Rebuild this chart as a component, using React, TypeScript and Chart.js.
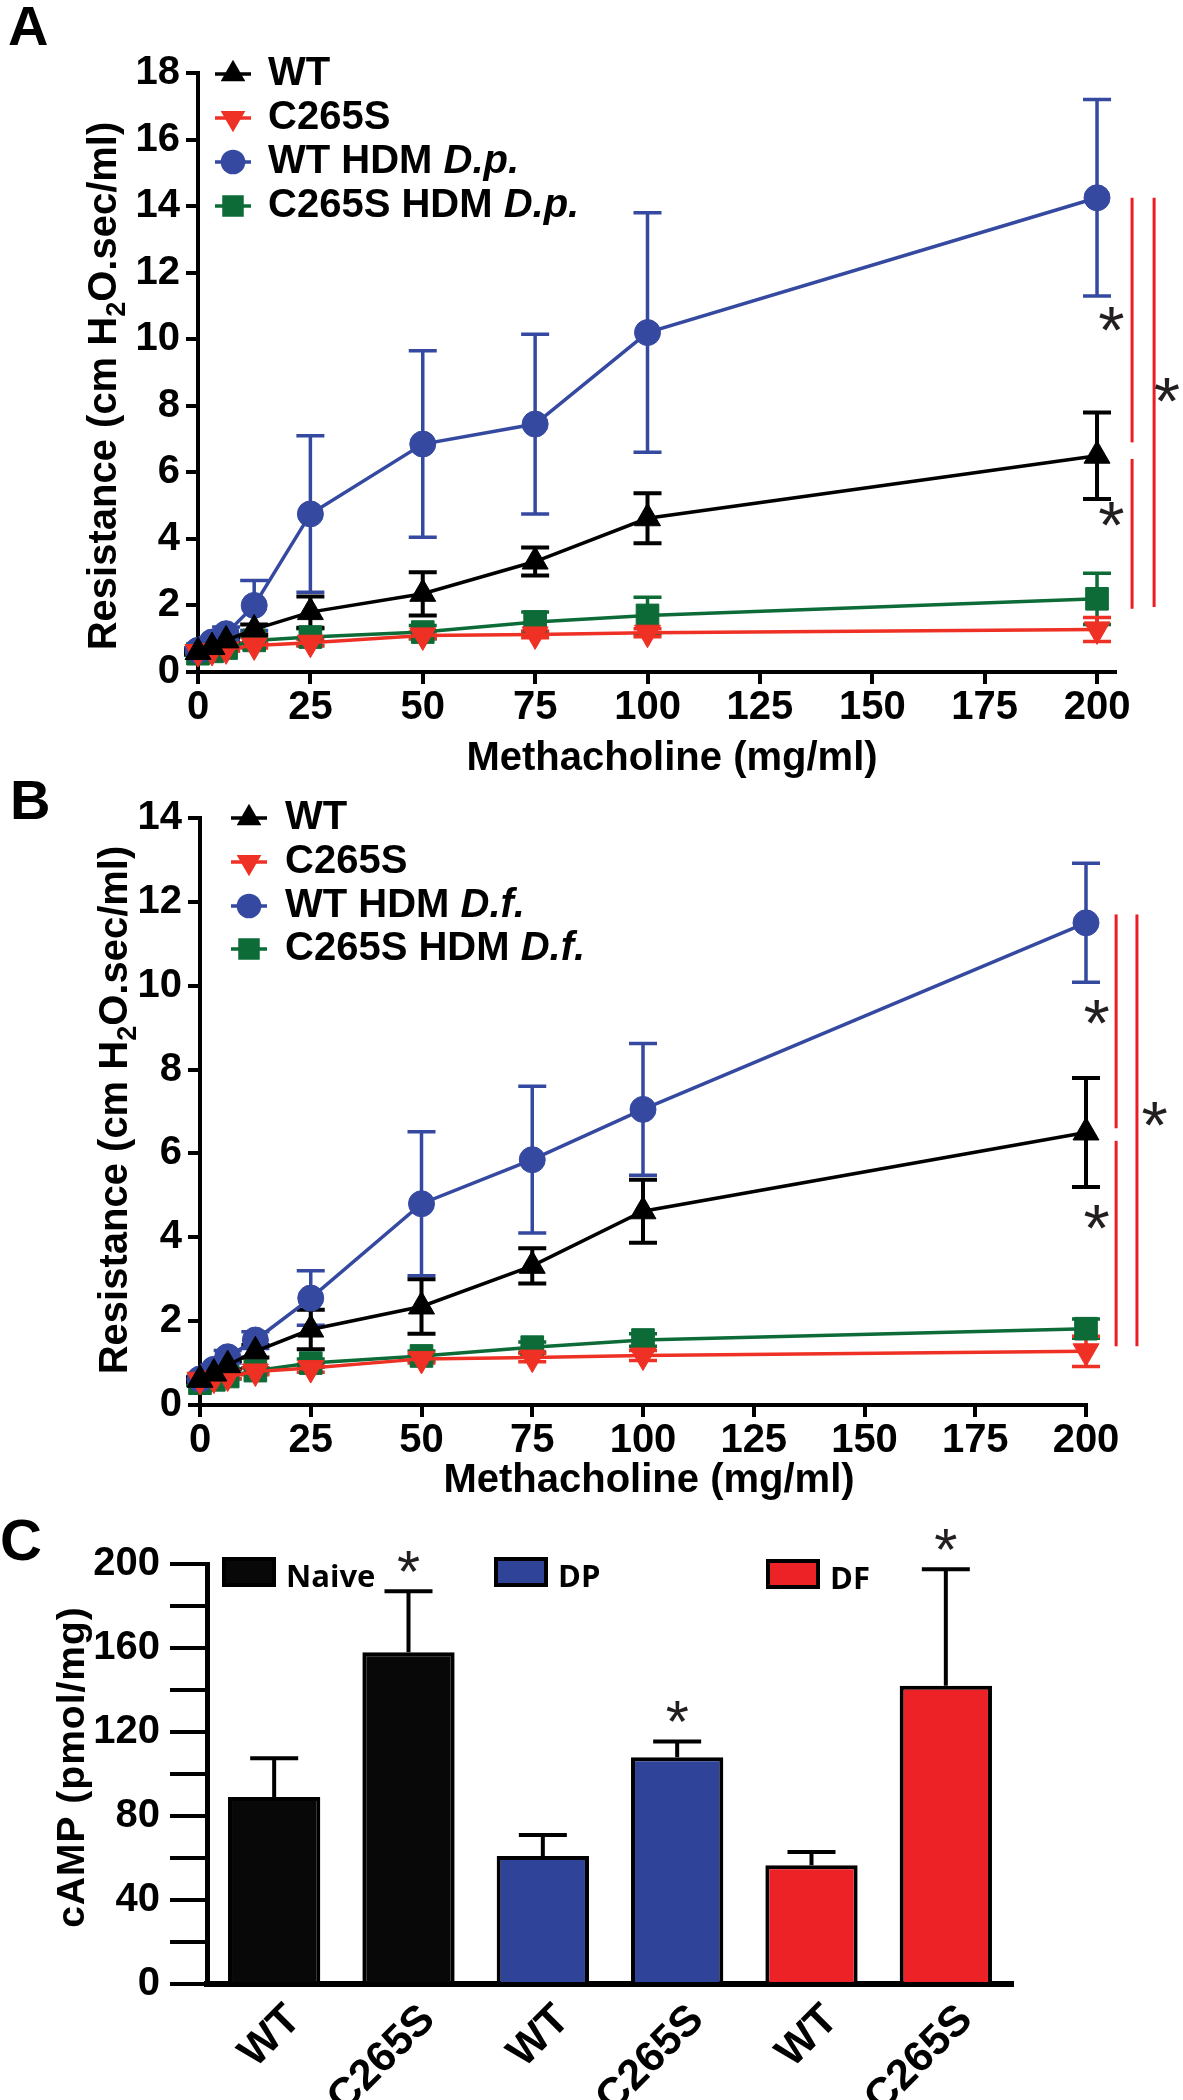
import React, { useEffect, useRef } from 'react';
import { Chart, registerables } from 'chart.js';

Chart.register(...registerables);

const SANS = '"Liberation Sans", Arial, Helvetica, sans-serif';
const MYRIAD = '"Open Sans", "Liberation Sans", sans-serif';

// ---------------- Panels A & B : airway resistance ----------------
const doses = [0, 3.125, 6.25, 12.5, 25, 50, 75, 100, 200];
const xTickValues = [0, 25, 50, 75, 100, 125, 150, 175, 200];
const xTitleAB = 'Methacholine (mg/ml)';

// WT and C265S controls (shared by A and B)
const wtRes = [0.6, 0.75, 0.95, 1.28, 1.8, 2.35, 3.32, 4.62, 6.5];
const wtSem = [0.05, 0.08, 0.1, 0.15, 0.47, 0.65, 0.42, 0.75, 1.3];
const c265sRes = [0.6, 0.63, 0.68, 0.8, 0.88, 1.1, 1.13, 1.18, 1.28];
const c265sSem = [0.05, 0.05, 0.05, 0.08, 0.1, 0.1, 0.1, 0.12, 0.36];

// HDM D. pteronyssinus (panel A)
const wtDpRes = [0.65, 0.9, 1.15, 2.0, 4.75, 6.85, 7.45, 10.2, 14.25];
const wtDpSem = [0.08, 0.12, 0.2, 0.75, 2.35, 2.8, 2.7, 3.6, 2.95];
const c265sDpRes = [0.55, 0.62, 0.72, 0.95, 1.05, 1.2, 1.5, 1.7, 2.2];
const c265sDpSem = [0.05, 0.06, 0.08, 0.1, 0.25, 0.2, 0.3, 0.55, 0.77];

// HDM D. farinae (panel B)
const wtDfRes = [0.62, 0.85, 1.15, 1.55, 2.55, 4.8, 5.85, 7.05, 11.5];
const wtDfSem = [0.06, 0.1, 0.15, 0.2, 0.65, 1.72, 1.75, 1.57, 1.42];
const c265sDfRes = [0.52, 0.6, 0.68, 0.82, 1.0, 1.17, 1.38, 1.55, 1.82];
const c265sDfSem = [0.05, 0.05, 0.06, 0.07, 0.1, 0.12, 0.12, 0.15, 0.23];

// ---------------- Panel C : cAMP ----------------
const cCategories = ['WT', 'C265S', 'WT', 'C265S', 'WT', 'C265S'];
const cGroups = ['Naive', 'DP', 'DF'];
const cValues = [89, 158, 61, 108, 56.5, 142];
const cSem = [18.5, 29, 10, 7.5, 6.3, 55.5];
const cSignificant = [false, true, false, true, false, true];
const cYTickLabels = [0, 40, 80, 120, 160, 200];

const BLACK = '#000000';
const RED = '#EE3124';
const BLUE = '#3549A1';
const GREEN = '#0C6B37';
const SIG_RED = '#ED1C24';
const STAR_COLOR = '#231F20';
const groupColors = ['#080808', '#2F4498', '#EC2227'];

type Series = {
  name: string;
  italic: string;
  values: number[];
  sem: number[];
  color: string;
  style: string;
  rot: number;
  radius: number;
};

function seriesSet(hdmValues: number[], hdmSem: number[], mutValues: number[], mutSem: number[], species: string): Series[] {
  return [
    { name: 'WT', italic: '', values: wtRes, sem: wtSem, color: BLACK, style: 'triangle', rot: 0, radius: 15 },
    { name: 'C265S', italic: '', values: c265sRes, sem: c265sSem, color: RED, style: 'triangle', rot: 180, radius: 15 },
    { name: 'WT HDM ', italic: species, values: hdmValues, sem: hdmSem, color: BLUE, style: 'circle', rot: 0, radius: 13 },
    { name: 'C265S HDM ', italic: species, values: mutValues, sem: mutSem, color: GREEN, style: 'rect', rot: 0, radius: 16 },
  ];
}

function drawMarker(ctx: CanvasRenderingContext2D, style: string, x: number, y: number, r: number, rot: number, color: string) {
  ctx.save();
  ctx.fillStyle = color;
  ctx.beginPath();
  if (style === 'circle') {
    ctx.arc(x, y, r, 0, Math.PI * 2);
  } else if (style === 'rect') {
    const h = r * Math.SQRT1_2;
    ctx.rect(x - h, y - h, 2 * h, 2 * h);
  } else {
    let a = (rot * Math.PI) / 180;
    for (let k = 0; k < 3; k++) {
      const px = x + Math.sin(a) * r;
      const py = y - Math.cos(a) * r;
      if (k === 0) ctx.moveTo(px, py);
      else ctx.lineTo(px, py);
      a += (2 * Math.PI) / 3;
    }
    ctx.closePath();
  }
  ctx.fill();
  ctx.restore();
}

function drawStar(ctx: CanvasRenderingContext2D, cx: number, cy: number, w: number) {
  ctx.save();
  ctx.font = `100px ${SANS}`;
  const m = ctx.measureText('*');
  const gw = m.actualBoundingBoxLeft + m.actualBoundingBoxRight || 30;
  const size = (100 * w) / gw;
  ctx.font = `${size}px ${SANS}`;
  const m2 = ctx.measureText('*');
  ctx.textAlign = 'left';
  ctx.textBaseline = 'alphabetic';
  ctx.fillStyle = STAR_COLOR;
  const x = cx - (m2.actualBoundingBoxRight - m2.actualBoundingBoxLeft) / 2;
  const y = cy + (m2.actualBoundingBoxAscent - m2.actualBoundingBoxDescent) / 2;
  ctx.fillText('*', x, y);
  ctx.restore();
}

const lineErrorBars = {
  id: 'lineErrorBars',
  beforeDatasetsDraw(chart: any) {
    const ctx = chart.ctx;
    const xs = chart.scales.x;
    const ys = chart.scales.y;
    const dsets = chart.data.datasets;
    for (let d = dsets.length - 1; d >= 0; d--) {
      const ds = dsets[d];
      if (!ds.sem) continue;
      ctx.save();
      ctx.strokeStyle = ds.borderColor;
      ctx.lineWidth = ds.borderColor === BLACK ? 4 : 3.5;
      ds.data.forEach((p: any, i: number) => {
        const e = ds.sem[i];
        const x = xs.getPixelForValue(p.x);
        const yh = ys.getPixelForValue(p.y + e);
        const yl = ys.getPixelForValue(p.y - e);
        ctx.beginPath();
        ctx.moveTo(x, yh);
        ctx.lineTo(x, yl);
        ctx.moveTo(x - 14, yh);
        ctx.lineTo(x + 14, yh);
        ctx.moveTo(x - 14, yl);
        ctx.lineTo(x + 14, yl);
        ctx.stroke();
      });
      ctx.restore();
    }
  },
};

type LinePanel = {
  id: string;
  letter: string;
  width: number;
  height: number;
  left: number;
  right: number;
  top: number;
  bottom: number;
  xMax: number;
  yMax: number;
  series: Series[];
  letterPos: [number, number];
  xTitlePos: [number, number];
  yTitlePos: [number, number];
  legendMarkerX: number;
  legendTextX: number;
  legendRows: number[];
  sigLines: { x: number; y1: number; y2: number }[];
  sigStars: { x: number; y: number }[];
};

function lineOverlay(p: LinePanel) {
  return {
    id: 'overlay' + p.id,
    afterDraw(chart: any) {
      const ctx: CanvasRenderingContext2D = chart.ctx;
      const xs = chart.scales.x;
      const ys = chart.scales.y;
      ctx.save();
      ctx.fillStyle = '#000';
      // panel letter
      ctx.font = `bold 56px ${SANS}`;
      ctx.textAlign = 'left';
      ctx.textBaseline = 'alphabetic';
      ctx.fillText(p.letter, p.letterPos[0], p.letterPos[1]);
      // x title
      ctx.font = `bold 40px ${SANS}`;
      ctx.textAlign = 'center';
      ctx.fillText(xTitleAB, p.xTitlePos[0], p.xTitlePos[1]);
      // y title with subscript
      const segs = [
        { t: 'Resistance (cm H', f: `bold 40px ${SANS}`, dy: 0 },
        { t: '2', f: `bold 27px ${SANS}`, dy: 9 },
        { t: 'O.sec/ml)', f: `bold 40px ${SANS}`, dy: 0 },
      ];
      let total = 0;
      segs.forEach((s) => {
        ctx.font = s.f;
        total += ctx.measureText(s.t).width;
      });
      ctx.save();
      ctx.translate(p.yTitlePos[0], p.yTitlePos[1]);
      ctx.rotate(-Math.PI / 2);
      ctx.textAlign = 'left';
      let cx = -total / 2;
      segs.forEach((s) => {
        ctx.font = s.f;
        ctx.fillText(s.t, cx, s.dy);
        cx += ctx.measureText(s.t).width;
      });
      ctx.restore();
      // legend
      p.series.forEach((s, i) => {
        const y = p.legendRows[i];
        ctx.save();
        ctx.strokeStyle = s.color;
        ctx.lineWidth = 3.5;
        ctx.beginPath();
        ctx.moveTo(p.legendMarkerX - 18, y);
        ctx.lineTo(p.legendMarkerX + 18, y);
        ctx.stroke();
        ctx.restore();
        drawMarker(ctx, s.style, p.legendMarkerX, y, s.radius * 0.95, s.rot, s.color);
        ctx.fillStyle = '#000';
        ctx.textAlign = 'left';
        ctx.textBaseline = 'middle';
        ctx.font = `bold 40px ${SANS}`;
        ctx.fillText(s.name, p.legendTextX, y);
        if (s.italic) {
          const w = ctx.measureText(s.name).width;
          ctx.font = `italic bold 40px ${SANS}`;
          ctx.fillText(s.italic, p.legendTextX + w, y);
        }
      });
      // significance brackets
      ctx.strokeStyle = SIG_RED;
      ctx.lineWidth = 3;
      p.sigLines.forEach((l) => {
        const x = xs.getPixelForValue(l.x);
        ctx.beginPath();
        ctx.moveTo(x, ys.getPixelForValue(l.y1));
        ctx.lineTo(x, ys.getPixelForValue(l.y2));
        ctx.stroke();
      });
      p.sigStars.forEach((s) => drawStar(ctx, xs.getPixelForValue(s.x), ys.getPixelForValue(s.y), 25));
      ctx.restore();
    },
  };
}

function makeLineConfig(p: LinePanel): any {
  const tickFont = { family: SANS, size: 40, weight: 'bold' as const };
  return {
    type: 'line',
    data: {
      datasets: p.series.map((s) => ({
        label: s.name + s.italic,
        data: doses.map((d, i) => ({ x: d, y: s.values[i] })),
        sem: s.sem,
        borderColor: s.color,
        backgroundColor: s.color,
        borderWidth: 3.5,
        tension: 0,
        pointStyle: s.style,
        pointRotation: s.rot,
        pointRadius: s.radius,
        pointBackgroundColor: s.color,
        pointBorderColor: s.color,
        pointBorderWidth: 1,
        clip: false,
      })),
    },
    options: {
      responsive: false,
      animation: false,
      events: [],
      layout: { padding: { left: 0, top: p.top, right: p.width - p.right, bottom: 0 } },
      plugins: { legend: { display: false }, tooltip: { enabled: false } },
      scales: {
        x: {
          type: 'linear',
          min: 0,
          max: p.xMax,
          afterBuildTicks: (s: any) => {
            s.ticks = xTickValues.map((v) => ({ value: v }));
          },
          afterFit: (s: any) => {
            s.height = p.height - p.bottom;
            s.paddingLeft = 0;
            s.paddingRight = 0;
          },
          ticks: { font: tickFont, color: '#000', padding: 0, autoSkip: false, maxRotation: 0, minRotation: 0 },
          grid: { drawOnChartArea: false, drawTicks: true, tickLength: 12, lineWidth: 4, tickWidth: 4, color: '#000', tickColor: '#000' },
          border: { display: true, width: 4, color: '#000' },
        },
        y: {
          type: 'linear',
          min: 0,
          max: p.yMax,
          afterFit: (s: any) => {
            s.width = p.left;
            s.paddingTop = 0;
            s.paddingBottom = 0;
          },
          ticks: { stepSize: 2, font: tickFont, color: '#000', padding: 6, autoSkip: false },
          grid: { drawOnChartArea: false, drawTicks: true, tickLength: 12, lineWidth: 4, tickWidth: 4, color: '#000', tickColor: '#000' },
          border: { display: true, width: 4, color: '#000' },
        },
      },
    },
    plugins: [lineErrorBars, lineOverlay(p)],
  };
}

const panelA: LinePanel = {
  id: 'A',
  letter: 'A',
  width: 1183,
  height: 780,
  left: 198,
  right: 1115,
  top: 73,
  bottom: 672,
  xMax: 204,
  yMax: 18,
  series: seriesSet(wtDpRes, wtDpSem, c265sDpRes, c265sDpSem, 'D.p.'),
  letterPos: [8, 45],
  xTitlePos: [672, 770],
  yTitlePos: [116, 386],
  legendMarkerX: 233,
  legendTextX: 268,
  legendRows: [74, 118, 162, 206],
  sigLines: [
    { x: 207.8, y1: 14.25, y2: 6.9 },
    { x: 207.8, y1: 6.4, y2: 1.9 },
    { x: 212.7, y1: 14.25, y2: 1.95 },
  ],
  sigStars: [
    { x: 203.3, y: 10.05 },
    { x: 203.3, y: 4.2 },
    { x: 215.6, y: 7.9 },
  ],
};

const panelB: LinePanel = {
  id: 'B',
  letter: 'B',
  width: 1183,
  height: 730,
  left: 200,
  right: 1086,
  top: 38,
  bottom: 625,
  xMax: 200,
  yMax: 14,
  series: seriesSet(wtDfRes, wtDfSem, c265sDfRes, c265sDfSem, 'D.f.'),
  letterPos: [10, 39],
  xTitlePos: [649, 712],
  yTitlePos: [127, 330],
  legendMarkerX: 249,
  legendTextX: 285,
  legendRows: [38, 82, 126, 169],
  sigLines: [
    { x: 206.8, y1: 11.7, y2: 6.6 },
    { x: 206.8, y1: 6.3, y2: 1.4 },
    { x: 211.5, y1: 11.7, y2: 1.4 },
  ],
  sigStars: [
    { x: 202.5, y: 8.94 },
    { x: 202.5, y: 4.05 },
    { x: 215.6, y: 6.5 },
  ],
};

// ---------------- Panel C config ----------------
const C_W = 1183;
const C_H = 590;
const C_LEFT = 207;
const C_RIGHT = 1013;
const C_TOP = 54;
const C_BOTTOM = 474;

const barErrorBars = {
  id: 'barErrorBars',
  afterDatasetsDraw(chart: any) {
    const ctx = chart.ctx;
    const xs = chart.scales.x;
    const ys = chart.scales.y;
    ctx.save();
    ctx.strokeStyle = '#000';
    ctx.lineWidth = 4;
    cValues.forEach((v, i) => {
      const x = xs.getPixelForValue(i);
      const y0 = ys.getPixelForValue(v);
      const y1 = ys.getPixelForValue(v + cSem[i]);
      ctx.beginPath();
      ctx.moveTo(x, y0);
      ctx.lineTo(x, y1);
      ctx.moveTo(x - 24, y1);
      ctx.lineTo(x + 24, y1);
      ctx.stroke();
      if (cSignificant[i]) drawStar(ctx, x, y1 - 30, 22);
    });
    ctx.restore();
  },
};

const overlayC = {
  id: 'overlayC',
  afterDraw(chart: any) {
    const ctx: CanvasRenderingContext2D = chart.ctx;
    const xs = chart.scales.x;
    ctx.save();
    ctx.fillStyle = '#000';
    ctx.font = `bold 58px ${SANS}`;
    ctx.textAlign = 'left';
    ctx.textBaseline = 'alphabetic';
    ctx.fillText('C', 0, 50);
    // y title
    ctx.save();
    ctx.translate(84, 257);
    ctx.rotate(-Math.PI / 2);
    ctx.font = `bold 39px ${SANS}`;
    (ctx as any).letterSpacing = '1px';
    ctx.textAlign = 'center';
    ctx.fillText('cAMP (pmol/mg)', 0, 0);
    ctx.restore();
    // rotated category labels
    ctx.font = `bold 43px ${SANS}`;
    ctx.textAlign = 'right';
    ctx.textBaseline = 'middle';
    cCategories.forEach((lab, i) => {
      const x = xs.getPixelForValue(i);
      ctx.save();
      ctx.translate(x + 20, chart.chartArea.bottom + 29);
      ctx.rotate(-Math.PI / 4);
      ctx.fillText(lab, 0, 0);
      ctx.restore();
    });
    // legend
    const boxX = [224, 496, 768];
    const boxY = [49, 49, 51];
    ctx.lineWidth = 4;
    ctx.strokeStyle = '#000';
    ctx.textAlign = 'left';
    cGroups.forEach((g, i) => {
      ctx.fillStyle = groupColors[i];
      ctx.fillRect(boxX[i], boxY[i], 50, 26);
      ctx.strokeRect(boxX[i], boxY[i], 50, 26);
      ctx.fillStyle = '#000';
      ctx.font = `bold 31px ${MYRIAD}`;
      ctx.textBaseline = 'alphabetic';
      ctx.fillText(g, boxX[i] + 62, boxY[i] + 28);
    });
    ctx.restore();
  },
};

function makeBarConfig(): any {
  return {
    type: 'bar',
    data: {
      labels: cCategories,
      datasets: [
        {
          data: cValues,
          backgroundColor: cCategories.map((_, i) => groupColors[Math.floor(i / 2)]),
          borderColor: '#000',
          borderWidth: 4,
          borderSkipped: 'start',
          barPercentage: 0.687,
          categoryPercentage: 1,
        },
      ],
    },
    options: {
      responsive: false,
      animation: false,
      events: [],
      layout: { padding: { left: 0, top: C_TOP, right: C_W - C_RIGHT, bottom: 0 } },
      plugins: { legend: { display: false }, tooltip: { enabled: false } },
      scales: {
        x: {
          type: 'category',
          offset: true,
          afterFit: (s: any) => {
            s.height = C_H - C_BOTTOM;
            s.paddingLeft = 0;
            s.paddingRight = 0;
          },
          grid: { display: false, drawTicks: false, tickLength: 0 },
          border: { display: true, width: 6, color: '#000' },
          ticks: { display: false },
        },
        y: {
          type: 'linear',
          min: 0,
          max: 200,
          afterFit: (s: any) => {
            s.width = C_LEFT;
            s.paddingTop = 0;
            s.paddingBottom = 0;
          },
          ticks: {
            stepSize: 20,
            autoSkip: false,
            font: { family: SANS, size: 40, weight: 'bold' },
            color: '#000',
            padding: 10,
            callback: (v: any) => (cYTickLabels.includes(Number(v)) ? String(v) : ''),
          },
          grid: { drawOnChartArea: false, drawTicks: true, tickLength: 37, lineWidth: 4, tickWidth: 4, color: '#000', tickColor: '#000' },
          border: { display: true, width: 5, color: '#000' },
        },
      },
    },
    plugins: [barErrorBars, overlayC],
  };
}

export default function App() {
  const refA = useRef<HTMLCanvasElement>(null);
  const refB = useRef<HTMLCanvasElement>(null);
  const refC = useRef<HTMLCanvasElement>(null);

  useEffect(() => {
    document.body.style.margin = '0';
    const charts: Chart[] = [];
    if (refA.current) charts.push(new Chart(refA.current, makeLineConfig(panelA)));
    if (refB.current) charts.push(new Chart(refB.current, makeLineConfig(panelB)));
    if (refC.current) charts.push(new Chart(refC.current, makeBarConfig()));
    return () => charts.forEach((c) => c.destroy());
  }, []);

  return (
    <div style={{ position: 'relative', width: 1183, height: 2100, background: '#ffffff', overflow: 'hidden' }}>
      <canvas ref={refA} width={1183} height={780} style={{ position: 'absolute', left: 0, top: 0, display: 'block' }} />
      <canvas ref={refB} width={1183} height={730} style={{ position: 'absolute', left: 0, top: 780, display: 'block' }} />
      <canvas ref={refC} width={C_W} height={C_H} style={{ position: 'absolute', left: 0, top: 1510, display: 'block' }} />
    </div>
  );
}
